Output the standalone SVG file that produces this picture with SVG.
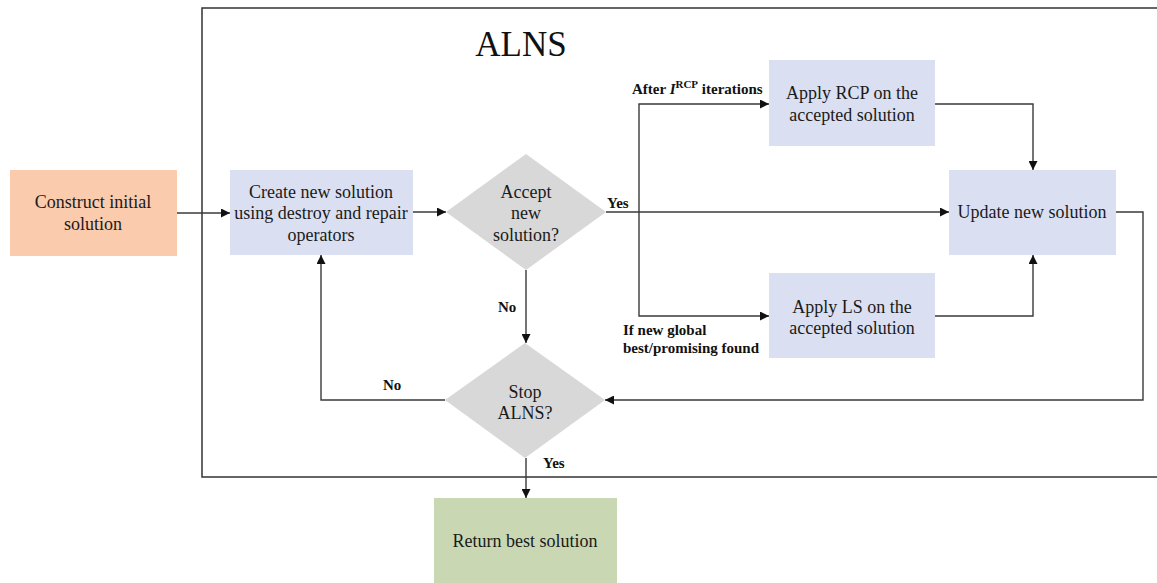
<svg xmlns="http://www.w3.org/2000/svg" width="1157" height="583" viewBox="0 0 1157 583">
<defs>
<marker id="ah" viewBox="0 0 10 10" refX="10" refY="5" markerWidth="9" markerHeight="9" markerUnits="userSpaceOnUse" orient="auto">
<path d="M0,0 L10,5 L0,10 z" fill="#111"/>
</marker>
</defs>
<style>
.t{font-family:"Liberation Serif","Times New Roman",serif;font-size:18px;fill:#1a1a1a;text-anchor:middle}
.lb{font-family:"Liberation Serif","Times New Roman",serif;font-size:15px;font-weight:bold;fill:#111}
.ls{font-family:"Liberation Serif","Times New Roman",serif;font-size:15px;font-weight:bold;fill:#111}
.c{fill:none;stroke:#3a3a3a;stroke-width:1.4}
.ca{fill:none;stroke:#3a3a3a;stroke-width:1.4;marker-end:url(#ah)}
.blue{fill:#DAE0F1}
.dia{fill:#D8D8D8}
</style>
<rect width="1157" height="583" fill="#fff"/>
<g id="alns-frame">
<rect x="202" y="8" width="980" height="469" fill="none" stroke="#333" stroke-width="1.5"/>
<text x="521" y="56" style="font-family:'Liberation Serif','Times New Roman',serif;font-size:35px;fill:#111;text-anchor:middle">ALNS</text>
</g>
<g id="connectors">
<line class="ca" x1="177" y1="213" x2="230" y2="213"/>
<line class="ca" x1="413" y1="212" x2="446" y2="212"/>
<line class="ca" x1="606" y1="212" x2="949" y2="212"/>
<polyline class="ca" points="639,212 639,104 769,104"/>
<polyline class="ca" points="639,212 639,316 769,316"/>
<polyline class="ca" points="935,104 1033,104 1033,170"/>
<polyline class="ca" points="935,316 1033,316 1033,255"/>
<polyline class="ca" points="1116,212 1143,212 1143,400 605,400"/>
<line class="ca" x1="526" y1="270" x2="526" y2="343"/>
<polyline class="ca" points="445,400 321,400 321,255"/>
<line class="ca" x1="526" y1="458" x2="526" y2="498"/>
<text class="lb" x="607" y="208">Yes</text>
<text class="lb" x="498" y="312">No</text>
<text class="lb" x="383" y="390">No</text>
<text class="lb" x="543" y="468">Yes</text>
<text class="ls" x="632" y="94">After <tspan font-style="italic">I</tspan><tspan font-size="11" dy="-6">RCP</tspan><tspan dy="6"> iterations</tspan></text>
<text class="ls" x="623" y="335">If new global</text>
<text class="ls" x="623" y="353">best/promising found</text>
</g>
<g id="construct">
<rect x="10" y="170" width="167" height="86" fill="#FBCBAD"/>
<text class="t" x="93" y="208">Construct initial</text>
<text class="t" x="93" y="230">solution</text>
</g>
<g id="create">
<rect class="blue" x="230" y="170" width="183" height="85"/>
<text class="t" x="321" y="198">Create new solution</text>
<text class="t" x="321" y="219">using destroy and repair</text>
<text class="t" x="321" y="241">operators</text>
</g>
<g id="accept">
<polygon class="dia" points="526,154 606,212 526,270 446,212"/>
<text class="t" x="526" y="198">Accept</text>
<text class="t" x="526" y="219">new</text>
<text class="t" x="526" y="241">solution?</text>
</g>
<g id="rcp">
<rect class="blue" x="769" y="60" width="166" height="86"/>
<text class="t" x="852" y="99">Apply RCP on the</text>
<text class="t" x="852" y="121">accepted solution</text>
</g>
<g id="ls">
<rect class="blue" x="769" y="273" width="166" height="85"/>
<text class="t" x="852" y="313">Apply LS on the</text>
<text class="t" x="852" y="334">accepted solution</text>
</g>
<g id="update">
<rect class="blue" x="949" y="170" width="167" height="85"/>
<text class="t" x="1032" y="218">Update new solution</text>
</g>
<g id="stop">
<polygon class="dia" points="525,343 605,400 525,458 445,400"/>
<text class="t" x="525" y="398">Stop</text>
<text class="t" x="525" y="419">ALNS?</text>
</g>
<g id="return">
<rect x="434" y="498" width="183" height="85" fill="#C9D8B3"/>
<text class="t" x="525" y="547">Return best solution</text>
</g>
</svg>
